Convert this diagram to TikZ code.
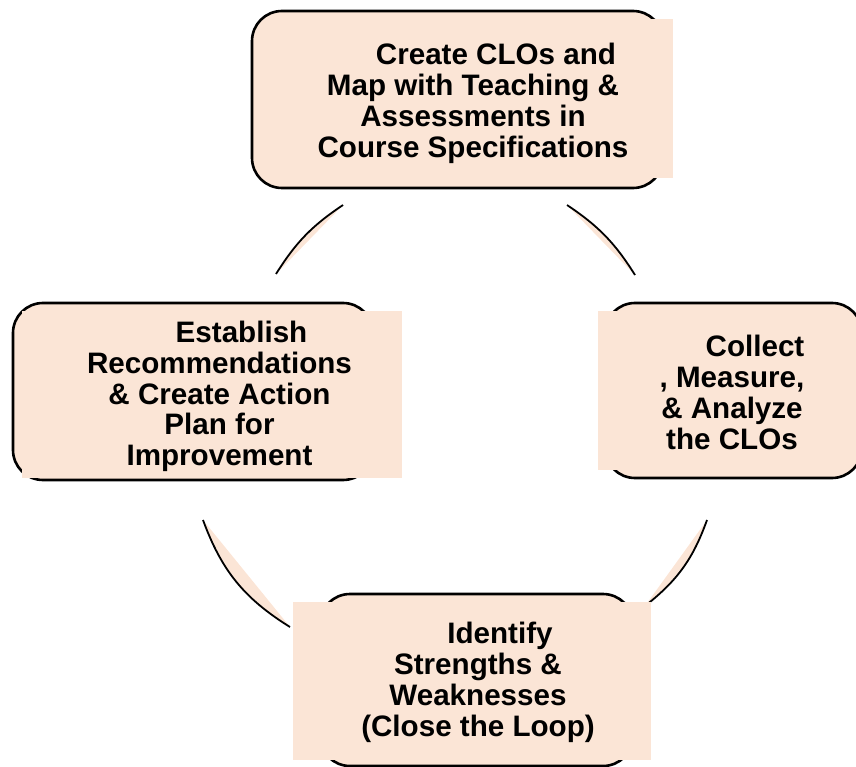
\documentclass[tikz,border=0pt]{standalone}
\usepackage{fontspec}
\setmainfont{Liberation Sans}
\definecolor{peach}{HTML}{FBE5D6}
\begin{document}
\begin{tikzpicture}
	[x=1pt, y=-1pt,
	boxline/.style={draw=black, line width=2.6pt, fill=peach, rounded corners=30pt, inner sep=0pt},
	boxfill/.style={fill=peach, inner sep=0pt},
	boxtext/.style={align=center, inner sep=0pt, font=\bfseries\fontsize{29.6pt}{30.8pt}\selectfont},
	arcline/.style={draw=black, line width=1.8pt},
	arcfill/.style={fill=peach}]
	\useasboundingbox (0,0) rectangle (856,767);
	\clip (0,0) rectangle (856,767);
	% cycle arcs
	\coordinate (arcA1) at (276,274);
	\coordinate (arcA2) at (343,205);
	\coordinate (arcB1) at (567,205);
	\coordinate (arcB2) at (635,275);
	\coordinate (arcC1) at (707,520);
	\coordinate (arcC2) at (645,606);
	\coordinate (arcD1) at (290,627);
	\coordinate (arcD2) at (203,520);
	\foreach \a/\b/\t in {arcA1/arcA2/12, arcB1/arcB2/12, arcC1/arcC2/16, arcD1/arcD2/19}
	{
		\fill[arcfill] (\a) to[bend left=\t] (\b) -- cycle;
		\draw[arcline] (\a) to[bend left=\t] (\b);
	}
	% boxes
	\node[boxline, minimum width=411pt, minimum height=177pt] (clo-frame) at (457.5,99.5) {};
	\node[boxfill, minimum width=405pt, minimum height=159pt] (clo-fill) at (470.5,98.5) {};
	\node[boxline, minimum width=257pt, minimum height=175pt] (collect-frame) at (733.5,390.5) {};
	\node[boxfill, minimum width=247pt, minimum height=159pt] (collect-fill) at (721.5,390.5) {};
	\node[boxline, minimum width=360pt, minimum height=177pt] (plan-frame) at (193,391.5) {};
	\node[boxfill, minimum width=380pt, minimum height=167pt] (plan-fill) at (212,394.5) {};
	\node[boxline, minimum width=313pt, minimum height=172pt] (loop-frame) at (476.5,680) {};
	\node[boxfill, minimum width=358pt, minimum height=158pt] (loop-fill) at (472,681) {};
	% texts
	\node[boxtext] (clo) at (473,103.5) {\hspace*{46pt}Create CLOs and\\Map with Teaching \&\\Assessments in\\Course Specifications};
	\node[boxtext] (collect) at (732,392.5) {\hspace*{46pt}Collect\\, Measure,\\\& Analyze\\the CLOs};
	\node[boxtext] (plan) at (219.5,396.5) {\hspace*{44pt}Establish\\Recommendations\\\& Create Action\\Plan for\\Improvement};
	\node[boxtext] (loop) at (478,682.5) {\hspace*{44pt}Identify\\Strengths \&\\Weaknesses\\(Close the Loop)};
\end{tikzpicture}
\end{document}
